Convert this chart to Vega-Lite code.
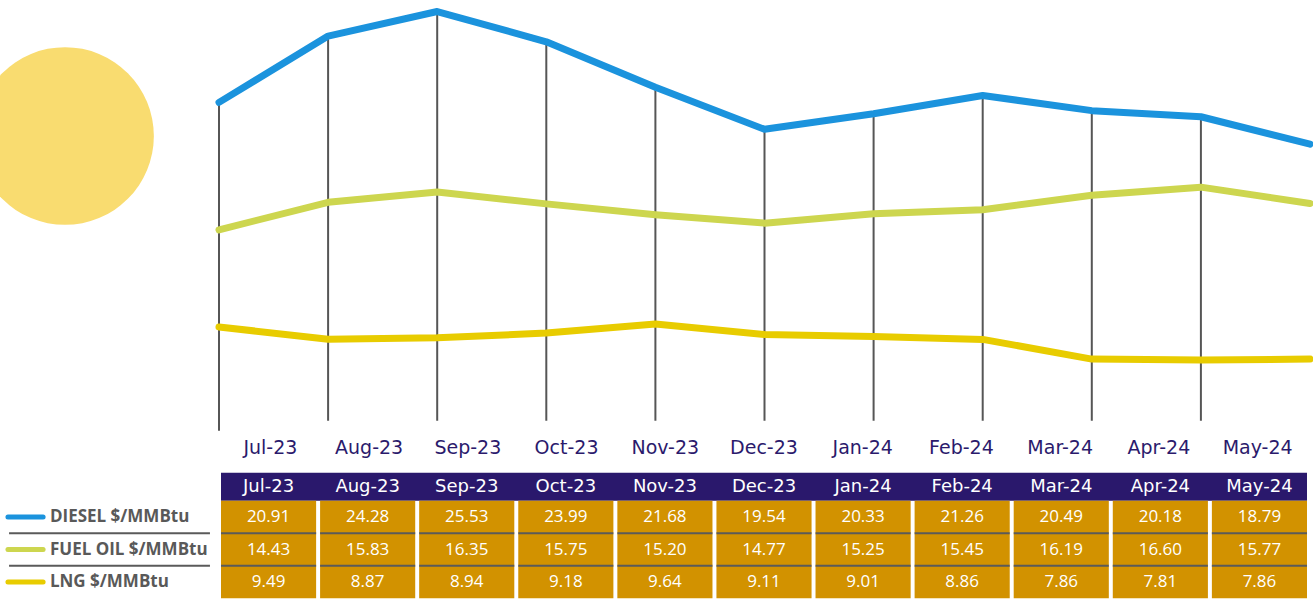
{
  "$schema": "https://vega.github.io/schema/vega-lite/v6.json",
  "width": 1313,
  "height": 600,
  "autosize": {"type": "none"},
  "padding": 0,
  "background": "white",
  "config": {"view": {"stroke": null}, "font": "Open Sans", "axis": {"disable": true}},
  "datasets": {
    "prices": [
      {"idx": 0, "month": "Jul-23", "series": "DIESEL $/MMBtu", "value": 20.91},
      {"idx": 1, "month": "Aug-23", "series": "DIESEL $/MMBtu", "value": 24.28},
      {"idx": 2, "month": "Sep-23", "series": "DIESEL $/MMBtu", "value": 25.53},
      {"idx": 3, "month": "Oct-23", "series": "DIESEL $/MMBtu", "value": 23.99},
      {"idx": 4, "month": "Nov-23", "series": "DIESEL $/MMBtu", "value": 21.68},
      {"idx": 5, "month": "Dec-23", "series": "DIESEL $/MMBtu", "value": 19.54},
      {"idx": 6, "month": "Jan-24", "series": "DIESEL $/MMBtu", "value": 20.33},
      {"idx": 7, "month": "Feb-24", "series": "DIESEL $/MMBtu", "value": 21.26},
      {"idx": 8, "month": "Mar-24", "series": "DIESEL $/MMBtu", "value": 20.49},
      {"idx": 9, "month": "Apr-24", "series": "DIESEL $/MMBtu", "value": 20.18},
      {"idx": 10, "month": "May-24", "series": "DIESEL $/MMBtu", "value": 18.79},
      {"idx": 0, "month": "Jul-23", "series": "FUEL OIL $/MMBtu", "value": 14.43},
      {"idx": 1, "month": "Aug-23", "series": "FUEL OIL $/MMBtu", "value": 15.83},
      {"idx": 2, "month": "Sep-23", "series": "FUEL OIL $/MMBtu", "value": 16.35},
      {"idx": 3, "month": "Oct-23", "series": "FUEL OIL $/MMBtu", "value": 15.75},
      {"idx": 4, "month": "Nov-23", "series": "FUEL OIL $/MMBtu", "value": 15.20},
      {"idx": 5, "month": "Dec-23", "series": "FUEL OIL $/MMBtu", "value": 14.77},
      {"idx": 6, "month": "Jan-24", "series": "FUEL OIL $/MMBtu", "value": 15.25},
      {"idx": 7, "month": "Feb-24", "series": "FUEL OIL $/MMBtu", "value": 15.45},
      {"idx": 8, "month": "Mar-24", "series": "FUEL OIL $/MMBtu", "value": 16.19},
      {"idx": 9, "month": "Apr-24", "series": "FUEL OIL $/MMBtu", "value": 16.60},
      {"idx": 10, "month": "May-24", "series": "FUEL OIL $/MMBtu", "value": 15.77},
      {"idx": 0, "month": "Jul-23", "series": "LNG $/MMBtu", "value": 9.49},
      {"idx": 1, "month": "Aug-23", "series": "LNG $/MMBtu", "value": 8.87},
      {"idx": 2, "month": "Sep-23", "series": "LNG $/MMBtu", "value": 8.94},
      {"idx": 3, "month": "Oct-23", "series": "LNG $/MMBtu", "value": 9.18},
      {"idx": 4, "month": "Nov-23", "series": "LNG $/MMBtu", "value": 9.64},
      {"idx": 5, "month": "Dec-23", "series": "LNG $/MMBtu", "value": 9.11},
      {"idx": 6, "month": "Jan-24", "series": "LNG $/MMBtu", "value": 9.01},
      {"idx": 7, "month": "Feb-24", "series": "LNG $/MMBtu", "value": 8.86},
      {"idx": 8, "month": "Mar-24", "series": "LNG $/MMBtu", "value": 7.86},
      {"idx": 9, "month": "Apr-24", "series": "LNG $/MMBtu", "value": 7.81},
      {"idx": 10, "month": "May-24", "series": "LNG $/MMBtu", "value": 7.86}
    ]
  },
  "data": {"name": "prices"},
  "resolve": {"scale": {"x": "independent", "y": "independent", "color": "independent"}},
  "layer": [
    {
      "layer": [
        {
          "data": {"values": [{}]},
          "mark": {"type": "point", "filled": true, "shape": "circle", "size": 31577, "color": "#F9DC70", "opacity": 1, "strokeWidth": 0},
          "encoding": {
            "x": {"datum": -1.4115, "type": "quantitative"},
            "y": {"datum": 19.2, "type": "quantitative"}
          }
        },
        {
          "transform": [{"filter": "datum.series === 'DIESEL $/MMBtu' && datum.idx > 0 && datum.idx < 10"}],
          "mark": {"type": "rule", "color": "#565656", "strokeWidth": 2},
          "encoding": {
            "x": {"field": "idx", "type": "quantitative", "axis": null, "scale": {"domain": [0, 10], "range": [219, 1310], "nice": false, "zero": false}},
            "y": {"field": "value", "type": "quantitative", "axis": null, "scale": {"domain": [4.254, 26.115], "range": [430, 0], "nice": false, "zero": false}},
            "y2": {"datum": 4.727}
          }
        },
        {
          "transform": [{"filter": "datum.series === 'DIESEL $/MMBtu' && datum.idx === 0"}],
          "mark": {"type": "rule", "color": "#565656", "strokeWidth": 2},
          "encoding": {
            "x": {"field": "idx", "type": "quantitative"},
            "y": {"field": "value", "type": "quantitative"},
            "y2": {"datum": 4.218}
          }
        },
        {
          "mark": {"type": "line", "strokeWidth": 7, "strokeCap": "round", "strokeJoin": "round"},
          "encoding": {
            "x": {"field": "idx", "type": "quantitative"},
            "y": {"field": "value", "type": "quantitative"},
            "color": {"field": "series", "type": "nominal", "legend": null,
              "scale": {"domain": ["DIESEL $/MMBtu", "FUEL OIL $/MMBtu", "LNG $/MMBtu"], "range": ["#1B93DD", "#CDD64F", "#E8CC00"]}},
            "order": {"field": "idx", "type": "quantitative"}
          }
        }
      ]
    },
    {
      "transform": [{"filter": "datum.series === 'DIESEL $/MMBtu'"}],
      "mark": {"type": "text", "font": "DejaVu Sans", "fontSize": 19, "fontWeight": "normal", "color": "#2B1A6C", "baseline": "middle", "align": "center"},
      "encoding": {
        "x": {"field": "month", "type": "nominal", "axis": null, "sort": null,
          "scale": {"domain": ["Jul-23", "Aug-23", "Sep-23", "Oct-23", "Nov-23", "Dec-23", "Jan-24", "Feb-24", "Mar-24", "Apr-24", "May-24"], "range": [221, 1307], "paddingInner": 0.04, "paddingOuter": 0}},
        "y": {"datum": 3.339, "type": "quantitative", "scale": {"domain": [4.254, 26.115], "range": [430, 0], "nice": false, "zero": false}},
        "text": {"field": "month"}
      }
    },
    {
      "transform": [{"filter": "datum.series === 'DIESEL $/MMBtu'"}],
      "layer": [
        {
          "data": {"values": [{}]},
          "mark": {"type": "rect", "color": "#2A186C"},
          "encoding": {
            "x": {"datum": "Jul-23", "type": "nominal", "bandPosition": 0,
              "scale": {"domain": ["Jul-23", "Aug-23", "Sep-23", "Oct-23", "Nov-23", "Dec-23", "Jan-24", "Feb-24", "Mar-24", "Apr-24", "May-24"], "range": [221, 1307], "paddingInner": 0.04, "paddingOuter": 0}},
            "x2": {"datum": "May-24", "bandPosition": 1},
            "y": {"datum": "header", "type": "nominal", "axis": null, "scale": {"domain": ["header"], "range": [472.7, 500.7], "paddingInner": 0, "paddingOuter": 0}}
          }
        },
        {
          "mark": {"type": "text", "font": "DejaVu Sans", "fontSize": 18, "fontWeight": "normal", "color": "white", "baseline": "middle", "align": "center"},
          "encoding": {
            "x": {"field": "month", "type": "nominal", "axis": null, "sort": null},
            "y": {"datum": "header", "type": "nominal"},
            "text": {"field": "month"}
          }
        }
      ]
    },
    {
      "layer": [
        {
          "mark": {"type": "rect", "color": "#D29200"},
          "encoding": {
            "x": {"field": "month", "type": "nominal", "axis": null, "sort": null,
              "scale": {"domain": ["Jul-23", "Aug-23", "Sep-23", "Oct-23", "Nov-23", "Dec-23", "Jan-24", "Feb-24", "Mar-24", "Apr-24", "May-24"], "range": [221, 1307], "paddingInner": 0.04, "paddingOuter": 0}},
            "y": {"field": "series", "type": "nominal", "axis": null, "sort": null,
              "scale": {"domain": ["DIESEL $/MMBtu", "FUEL OIL $/MMBtu", "LNG $/MMBtu"], "range": [500.7, 598.3], "paddingInner": 0, "paddingOuter": 0}}
          }
        },
        {
          "transform": [{"filter": "datum.series !== 'DIESEL $/MMBtu'"}],
          "mark": {"type": "rule", "color": "#5A5A5A", "strokeWidth": 2},
          "encoding": {
            "x": {"field": "month", "type": "nominal", "bandPosition": 0, "sort": null},
            "x2": {"field": "month", "bandPosition": 1},
            "y": {"field": "series", "type": "nominal", "bandPosition": 0, "sort": null}
          }
        },
        {
          "mark": {"type": "text", "fontSize": 17, "color": "white", "baseline": "middle", "align": "center"},
          "encoding": {
            "x": {"field": "month", "type": "nominal", "sort": null},
            "y": {"field": "series", "type": "nominal", "sort": null},
            "text": {"field": "value", "type": "quantitative", "format": ".2f"}
          }
        }
      ]
    },
    {
      "transform": [{"filter": "datum.month === 'Jul-23'"}],
      "layer": [
        {
          "mark": {"type": "rule", "strokeWidth": 5, "strokeCap": "round"},
          "encoding": {
            "x": {"datum": 0.036, "type": "quantitative", "scale": {"domain": [0, 1], "range": [0, 221], "nice": false, "zero": false}},
            "x2": {"datum": 0.195},
            "y": {"field": "series", "type": "nominal", "axis": null, "sort": null,
              "scale": {"domain": ["DIESEL $/MMBtu", "FUEL OIL $/MMBtu", "LNG $/MMBtu"], "range": [500.7, 598.3], "paddingInner": 0, "paddingOuter": 0}},
            "color": {"field": "series", "type": "nominal", "legend": null,
              "scale": {"domain": ["DIESEL $/MMBtu", "FUEL OIL $/MMBtu", "LNG $/MMBtu"], "range": ["#1B93DD", "#CDD64F", "#E8CC00"]}}
          }
        },
        {
          "transform": [{"filter": "datum.series !== 'DIESEL $/MMBtu'"}],
          "mark": {"type": "rule", "strokeWidth": 2, "color": "#5A5A5A"},
          "encoding": {
            "x": {"datum": 0.041, "type": "quantitative"},
            "x2": {"datum": 0.95},
            "y": {"field": "series", "type": "nominal", "bandPosition": 0, "sort": null}
          }
        },
        {
          "mark": {"type": "text", "fontSize": 17, "fontWeight": "bold", "color": "#595959", "align": "left", "baseline": "middle", "letterSpacing": -0.3},
          "encoding": {
            "x": {"datum": 0.226, "type": "quantitative"},
            "y": {"field": "series", "type": "nominal", "sort": null},
            "text": {"field": "series"}
          }
        }
      ]
    }
  ]
}
